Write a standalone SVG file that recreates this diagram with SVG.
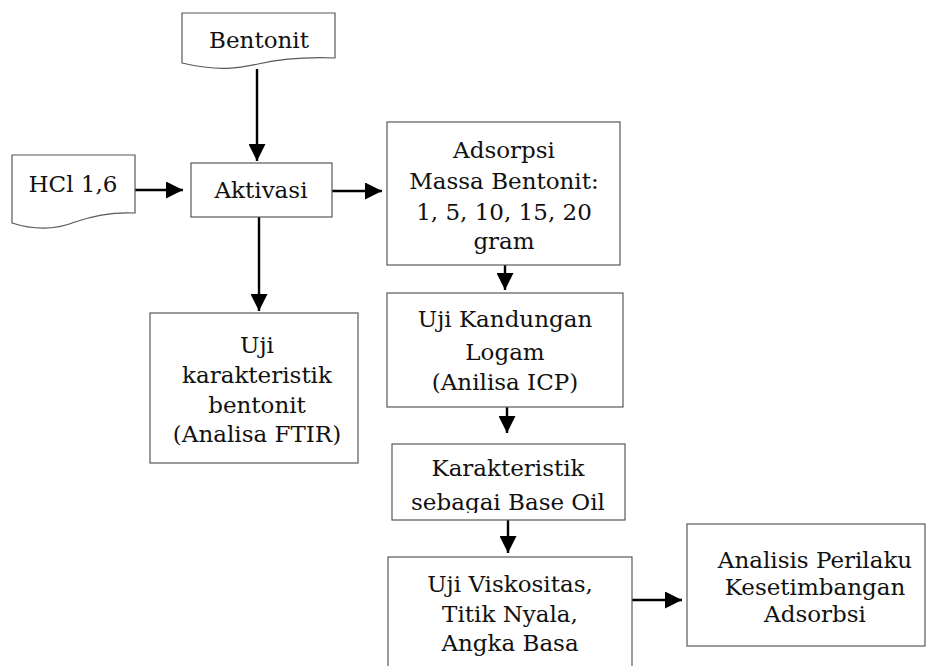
<svg xmlns="http://www.w3.org/2000/svg" width="928" height="666" viewBox="0 0 928 666">
<style>
.box{fill:#fff;stroke:#595959;stroke-width:1.2}
.t{font-family:"DejaVu Serif","Liberation Serif",serif;font-size:23px;fill:#111;text-anchor:middle}
.c{stroke:#000;stroke-width:2.4;fill:none}
</style>
<defs>
<marker id="a" viewBox="0 0 16 17" markerWidth="16" markerHeight="17" refX="17" refY="8.5" orient="auto" markerUnits="userSpaceOnUse">
<path d="M0,0 L17,8.5 L0,17 Z" fill="#000"/>
</marker>
<clipPath id="clipK"><rect x="393" y="444" width="232" height="69"/></clipPath>
</defs>
<rect width="928" height="666" fill="#fff"/>
<g id="connectors">
<line class="c" x1="257" y1="69" x2="257" y2="161" marker-end="url(#a)"/>
<line class="c" x1="135" y1="190" x2="183" y2="190" marker-end="url(#a)"/>
<line class="c" x1="332" y1="191" x2="382" y2="191" marker-end="url(#a)"/>
<line class="c" x1="259" y1="217" x2="259" y2="311" marker-end="url(#a)"/>
<line class="c" x1="505" y1="258" x2="505" y2="290" marker-end="url(#a)"/>
<line class="c" x1="507" y1="407" x2="507" y2="433" marker-end="url(#a)"/>
<line class="c" x1="508" y1="520" x2="508" y2="553" marker-end="url(#a)"/>
<line class="c" x1="632" y1="600" x2="682" y2="600" marker-end="url(#a)"/>
</g>
<g id="bentonit">
<path class="box" d="M182,13 H335 V58 C310,57 285,58 258,64 C240,68 220,72 182,63 Z"/>
<text class="t" x="259" y="48">Bentonit</text>
</g>
<g id="hcl">
<path class="box" d="M12,155 H135 V213 C115,212 95,215 75,222 C60,228 40,232 12,223 Z"/>
<text class="t" x="73" y="192">HCl 1,6</text>
</g>
<g id="aktivasi">
<rect class="box" x="191" y="163" width="141" height="54"/>
<text class="t" x="261" y="198">Aktivasi</text>
</g>
<g id="adsorpsi">
<rect class="box" x="387" y="122" width="233" height="143"/>
<text class="t" x="504" y="158">Adsorpsi</text>
<text class="t" x="504" y="189">Massa Bentonit:</text>
<text class="t" x="504" y="220">1, 5, 10, 15, 20</text>
<text class="t" x="504" y="249">gram</text>
</g>
<g id="uji-karakteristik">
<rect class="box" x="150" y="313" width="208" height="150"/>
<text class="t" x="257" y="353">Uji</text>
<text class="t" x="257" y="383">karakteristik</text>
<text class="t" x="257" y="413">bentonit</text>
<text class="t" x="257" y="442">(Analisa FTIR)</text>
</g>
<g id="uji-kandungan">
<rect class="box" x="387" y="293" width="236" height="114"/>
<text class="t" x="505" y="327">Uji Kandungan</text>
<text class="t" x="505" y="360">Logam</text>
<text class="t" x="505" y="390">(Anilisa ICP)</text>
</g>
<g id="karakteristik">
<rect class="box" x="392" y="444" width="233" height="76"/>
<g clip-path="url(#clipK)">
<text class="t" x="508" y="476">Karakteristik</text>
<text class="t" x="508" y="510">sebagai Base Oil</text>
</g>
</g>
<g id="uji-viskositas">
<rect class="box" x="388" y="557" width="244" height="120"/>
<text class="t" x="510" y="592">Uji Viskositas,</text>
<text class="t" x="510" y="622">Titik Nyala,</text>
<text class="t" x="510" y="651">Angka Basa</text>
</g>
<g id="analisis">
<rect class="box" x="687" y="524" width="238" height="122"/>
<text class="t" x="815" y="568">Analisis Perilaku</text>
<text class="t" x="815" y="595">Kesetimbangan</text>
<text class="t" x="815" y="622">Adsorbsi</text>
</g>
</svg>
